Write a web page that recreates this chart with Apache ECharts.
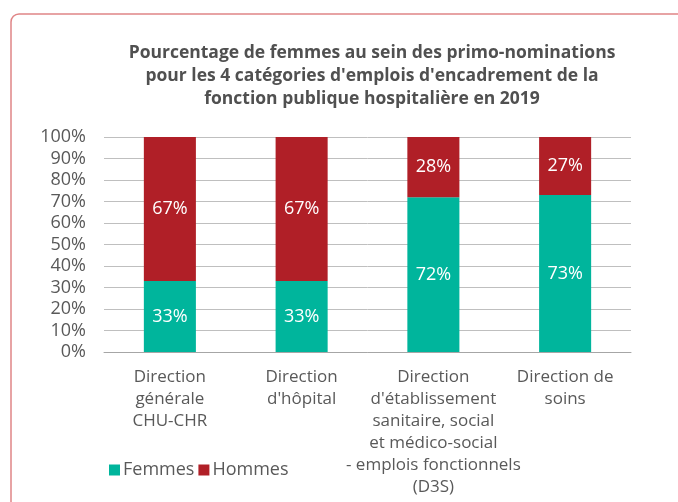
<!DOCTYPE html>
<html>
<head>
<meta charset="utf-8">
<script src="https://cdn.jsdelivr.net/npm/echarts@6/dist/echarts.min.js"></script>
<style>
    html, body { margin: 0; padding: 0; background: #fff; }
    #chart { width: 678px; height: 502px; }
</style>
</head>
<body>
<div id="chart"></div>
<script>
    // catégories (avec retours à la ligne comme dans l'original)
    var categories = [
        'Direction\ngénérale\nCHU-CHR',
        'Direction\nd\'hôpital',
        'Direction\nd\'établissement\nsanitaire, social\net médico-social\n- emplois fonctionnels\n(D3S)',
        'Direction de\nsoins'
    ]
    var femmes = [33, 33, 72, 73]
    var hommes = [67, 67, 28, 27]
    var yTicks = [0, 10, 20, 30, 40, 50, 60, 70, 80, 90, 100]

    var font = 'Open Sans'
    var chart = echarts.init(document.getElementById('chart'))

    var option = {
        animation: false,
        textStyle: { fontFamily: font },
        title: {
            text: 'Pourcentage de femmes au sein des primo-nominations\npour les 4 catégories d\'emplois d\'encadrement de la\nfonction publique hospitalière en 2019',
            left: 367,
            top: 37,
            textAlign: 'center',
            textStyle: {
                fontFamily: font,
                fontSize: 17.5,
                fontWeight: 'bold',
                color: '#505050',
                lineHeight: 23
            }
        },
        graphic: [{
            type: 'rect',
            shape: { x: 11, y: 14, width: 700, height: 520, r: 8 },
            style: { fill: 'none', stroke: '#e08586', lineWidth: 1.5 },
            silent: true
        }],
        legend: {
            left: 104,
            top: 456,
            itemWidth: 11,
            itemHeight: 11,
            itemGap: 4,
            icon: 'rect',
            textStyle: { fontFamily: font, fontSize: 18, color: '#595959', padding: [0, 0, 0, -2] },
            data: ['Femmes', 'Hommes']
        },
        grid: { left: 104, right: 47, top: 137, bottom: 150 },
        xAxis: {
            type: 'category',
            data: categories,
            axisTick: { show: false },
            axisLine: { lineStyle: { color: '#a6a6a6', width: 1 } },
            axisLabel: {
                fontFamily: font,
                fontSize: 17,
                color: '#595959',
                lineHeight: 22,
                margin: 14,
                interval: 0
            }
        },
        yAxis: {
            type: 'value',
            min: 0,
            max: 100,
            interval: 10,
            axisLine: { show: false },
            axisTick: { show: false },
            splitLine: { lineStyle: { color: '#bfbfbf', width: 1 } },
            axisLabel: {
                fontFamily: font,
                fontSize: 18,
                color: '#595959',
                margin: 18,
                formatter: function (v) { return yTicks.indexOf(v) >= 0 ? v + '%' : '' }
            }
        },
        series: [{
            name: 'Femmes',
            type: 'bar',
            stack: 'total',
            barWidth: '39.5%',
            data: femmes,
            itemStyle: { color: '#00b59c' },
            label: {
                show: true,
                position: 'inside',
                color: '#ffffff',
                fontFamily: font,
                fontSize: 18,
                formatter: '{c}%'
            }
        }, {
            name: 'Hommes',
            type: 'bar',
            stack: 'total',
            barWidth: '39.5%',
            data: hommes,
            itemStyle: { color: '#b01f27' },
            label: {
                show: true,
                position: 'inside',
                color: '#ffffff',
                fontFamily: font,
                fontSize: 18,
                formatter: '{c}%'
            }
        }]
    }

    chart.setOption(option)
</script>
</body>
</html>
